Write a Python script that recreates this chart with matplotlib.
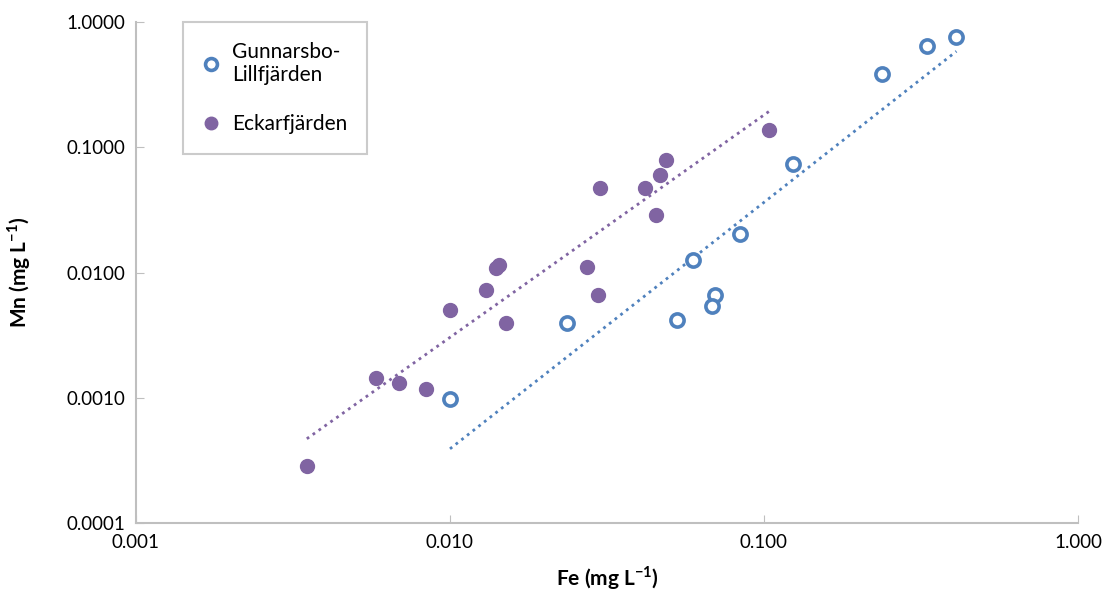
import numpy as np
from matplotlib import pyplot as plt

plt.rcParams['font.family'] = ['Lato', 'DejaVu Sans']

# Gunnarsbo-Lillfjärden
fe_g = [0.410, 0.330, 0.2375, 0.124, 0.0837, 0.0593, 0.0698, 0.0681, 0.0527, 0.0235, 0.0100]
mn_g = [0.754, 0.647, 0.381, 0.0740, 0.0204, 0.0126, 0.00667, 0.00545, 0.00421, 0.00398, 0.00098]

# Eckarfjärden
fe_e = [0.0486, 0.0466, 0.0417, 0.0300, 0.0454, 0.0140, 0.0143, 0.0273, 0.0130,
        0.0297, 0.0100, 0.0151, 0.0058, 0.0069, 0.0084, 0.0035, 0.1039]
mn_e = [0.0787, 0.0600, 0.0472, 0.0472, 0.0286, 0.0109, 0.0114, 0.0110, 0.00731,
        0.00662, 0.00503, 0.00396, 0.00145, 0.00132, 0.00118, 0.000284, 0.1368]

blue = '#4f81bd'
purple = '#8064a2'

fig = plt.figure(figsize=(11.08, 5.9), dpi=100)
ax = fig.add_axes([136/1108, 1 - 523/590, (1078-136)/1108, (523-22)/590])

def power_fit(x, y):
    x = np.array(x); y = np.array(y)
    b, a = np.polyfit(np.log10(x), np.log10(y), 1)
    xs = np.array([x.min(), x.max()])
    return xs, 10**a * xs**b

xs, ys = power_fit(fe_g, mn_g)
ax.plot(xs, ys, color=blue, lw=2, linestyle=(0, (1, 1.6)), zorder=2)
xs, ys = power_fit(fe_e, mn_e)
ax.plot(xs, ys, color=purple, lw=2, linestyle=(0, (1, 1.6)), zorder=2)

ax.plot(fe_g, mn_g, 'o', mfc='white', mec=blue, mew=2.6, ms=9.5, zorder=3,
        label='Gunnarsbo-\nLillfjärden')
ax.plot(fe_e, mn_e, 'o', color=purple, ms=10, zorder=3, label='Eckarfjärden')

ax.set_xscale('log')
ax.set_yscale('log')
ax.set_xlim(0.001, 1)
ax.set_ylim(0.0001, 1)
ax.set_xticks([0.001, 0.01, 0.1, 1])
ax.set_xticklabels(['0.001', '0.010', '0.100', '1.000'])
ax.set_yticks([0.0001, 0.001, 0.01, 0.1, 1])
ax.set_yticklabels(['0.0001', '0.0010', '0.0100', '0.1000', '1.0000'])
ax.minorticks_off()
ax.tick_params(direction='in', length=6, color='#bfbfbf', labelsize=13.5, pad=8)

for s in ['top', 'right']:
    ax.spines[s].set_visible(False)
for s in ['left', 'bottom']:
    ax.spines[s].set_color('#bfbfbf')
    ax.spines[s].set_linewidth(1.5)

ax.set_xlabel('Fe (mg L$^{\\mathregular{-1}}$)', fontsize=15, fontweight='bold', labelpad=9)
ax.set_ylabel('Mn (mg L$^{\\mathregular{-1}}$)', fontsize=15, fontweight='bold', labelpad=24)

leg = ax.legend(loc='upper left', bbox_to_anchor=(47/942, 1.0), fontsize=15,
                frameon=True, fancybox=False, edgecolor='#bfbfbf', handlelength=0.8,
                handletextpad=0.6, labelspacing=1.4, borderpad=0.95, markerscale=0.9,
                borderaxespad=0)
leg.get_frame().set_linewidth(1.5)

fig.savefig('out.png', dpi=100)
